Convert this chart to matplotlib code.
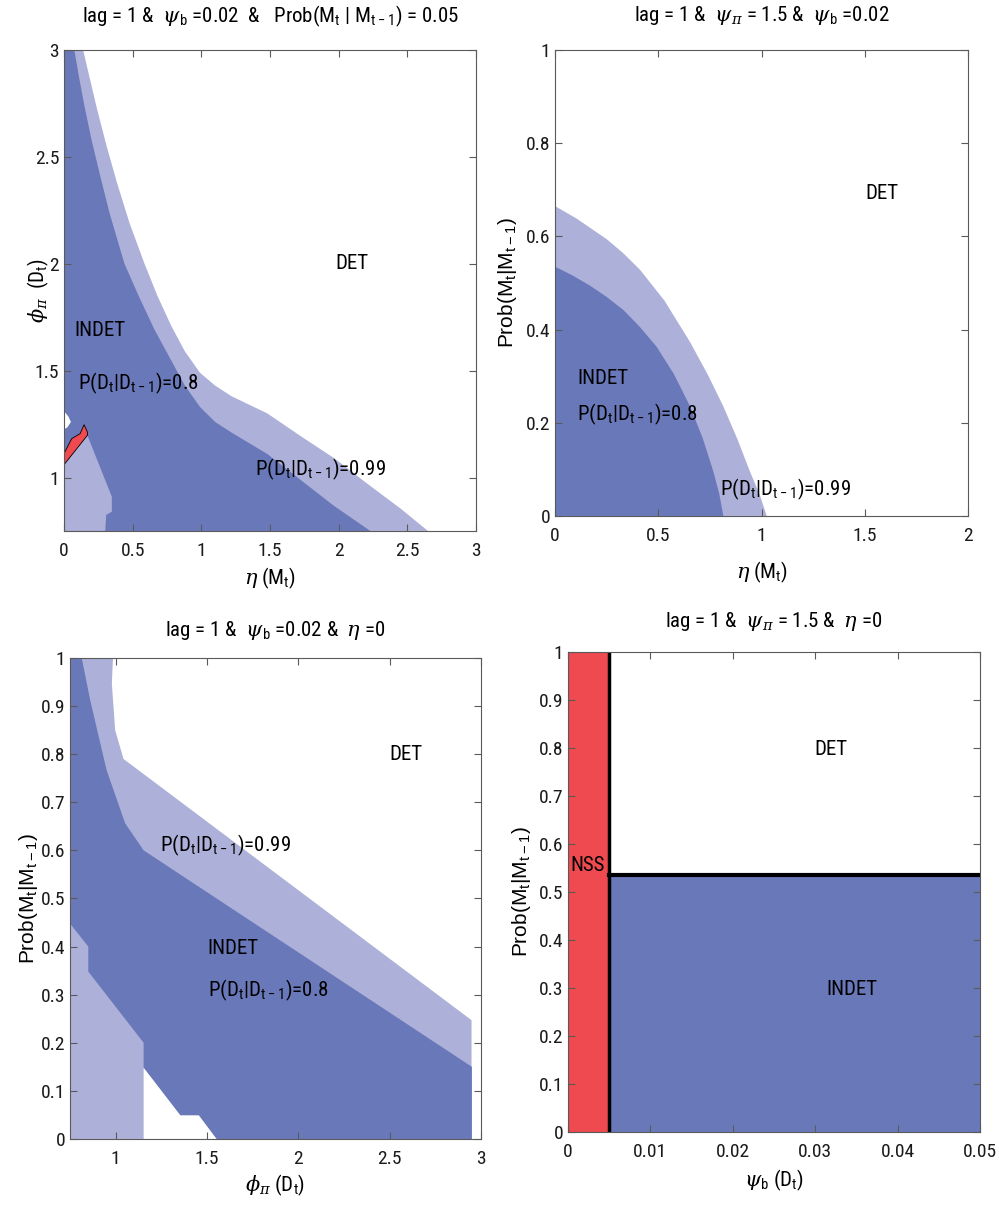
import matplotlib.pyplot as plt
from matplotlib import font_manager as fm
from matplotlib.ticker import FuncFormatter

# pick the narrowest sans that is installed, else plain DejaVu at a smaller size
wanted = ['Liberation Sans Narrow', 'Noto Sans ExtraCondensed', 'Noto Sans Extra Condensed',
          'Noto Sans Condensed', 'Noto Sans Cond', 'DejaVu Sans Condensed',
          'Roboto Condensed', 'Open Sans Condensed']
installed = {f.name for f in fm.fontManager.ttflist}
condensed = {f.name for f in fm.fontManager.ttflist if 'condensed' in str(f.stretch)}
family, scale = 'DejaVu Sans', 0.82
for name in wanted:
    if name in installed:
        family, scale = name, 1.0
        break
else:
    for name in ['Noto Sans', 'DejaVu Sans', 'Open Sans', 'Roboto']:
        if name in condensed:
            family, scale = name, 1.0
            plt.rcParams['font.stretch'] = 'condensed'
            break

plt.rcParams['font.family'] = [family, 'DejaVu Sans']
plt.rcParams['mathtext.default'] = 'regular'
plt.rcParams['mathtext.fontset'] = 'dejavuserif'

FS_TICK = 14 * scale
FS_TXT = 15 * scale
FS_TITLE = 15 * scale

DARK = '#6978b9'
LIGHT = '#adb0d8'
RED = '#ee4a50'
EDGE = '#5a5a5a'

# ---- panel 1: eta vs phi_pi ----
eta_dark_1 = [0.075, 0.11, 0.148, 0.2, 0.26, 0.33, 0.44, 0.55, 0.66, 0.77, 0.88, 0.99,
              1.1, 1.22, 1.35, 1.48, 1.72, 1.96, 2.23]
phi_dark_1 = [3.0, 2.87, 2.74, 2.58, 2.42, 2.24, 2.0, 1.84, 1.69, 1.56, 1.43, 1.33,
              1.26, 1.21, 1.16, 1.11, 0.99, 0.87, 0.75]
eta_light_1 = [0.139, 0.19, 0.238, 0.31, 0.385, 0.477, 0.586, 0.68, 0.78, 0.88,
               0.99, 1.1, 1.22, 1.35, 1.48, 1.72, 1.97, 2.2, 2.45, 2.65]
phi_light_1 = [3.0, 2.86, 2.73, 2.55, 2.38, 2.19, 2.0, 1.85, 1.71, 1.59,
               1.49, 1.43, 1.38, 1.34, 1.30, 1.195, 1.089, 0.975, 0.855, 0.75]
eta_low_1 = [0, 0, 0.17, 0.348, 0.348, 0.307, 0.30]
phi_low_1 = [0.75, 1.06, 1.197, 0.91, 0.84, 0.825, 0.75]
eta_nss_1 = [0, 0, 0.056, 0.117, 0.146, 0.17, 0.17]
phi_nss_1 = [1.06, 1.112, 1.182, 1.205, 1.247, 1.213, 1.197]
eta_hole_1 = [0, 0.032, 0.05, 0.025, 0]
phi_hole_1 = [1.31, 1.285, 1.26, 1.235, 1.225]

# ---- panel 2: eta vs Prob(M|M) ----
eta_dark_2 = [0, 0.085, 0.17, 0.25, 0.331, 0.41, 0.492, 0.575, 0.654, 0.715,
              0.767, 0.795, 0.815]
p_dark_2 = [0.535, 0.516, 0.494, 0.47, 0.442, 0.406, 0.363, 0.305, 0.235, 0.167,
            0.095, 0.048, 0]
eta_light_2 = [0, 0.105, 0.25, 0.33, 0.412, 0.53, 0.654, 0.74, 0.815, 0.885,
               0.944, 0.99, 1.025]
p_light_2 = [0.665, 0.638, 0.594, 0.564, 0.528, 0.462, 0.373, 0.303, 0.235, 0.163,
             0.095, 0.047, 0]

# ---- panel 3: phi_pi vs Prob(M|M) ----
phi_light_3 = [0.985, 0.979, 0.997, 1.043, 2.948]
p_light_3 = [1.0, 0.947, 0.85, 0.79, 0.247]
phi_dark_top_3 = [0.814, 0.86, 0.95, 1.052, 1.153, 2.95]
p_dark_top_3 = [1.0, 0.913, 0.767, 0.656, 0.60, 0.15]
phi_dark_bot_3 = [2.95, 1.552, 1.455, 1.354, 1.153, 1.153, 0.85, 0.85, 0.75]
p_dark_bot_3 = [0.0, 0.0, 0.049, 0.049, 0.148, 0.20, 0.348, 0.40, 0.448]
phi_hole_3 = [1.153, 1.153, 1.354, 1.455, 1.552]
p_hole_3 = [0.0, 0.148, 0.049, 0.049, 0.0]

# ---- panel 4: psi_b vs Prob(M|M) ----
psi_nss = 0.005
psi_max = 0.05
p_det = 0.535

g = FuncFormatter(lambda v, pos: '%g' % round(v, 6))


def style(ax, xlim, ylim, xticks, yticks):
    ax.set_xlim(xlim)
    ax.set_ylim(ylim)
    ax.set_xticks(xticks)
    ax.set_yticks(yticks)
    ax.xaxis.set_major_formatter(g)
    ax.yaxis.set_major_formatter(g)
    ax.tick_params(direction='in', top=True, right=True, labelsize=FS_TICK,
                   length=5, width=0.8, color=EDGE, labelcolor='#1a1a1a')
    ax.tick_params(axis='x', pad=8)
    for s in ax.spines.values():
        s.set_color(EDGE)
        s.set_linewidth(0.8)
        s.set_zorder(5)


def labels(ax, title, ty, xl, xy, yl, yx, prob=False):
    ax.set_title(title, fontsize=FS_TITLE, y=ty, va='center', pad=0)
    ax.set_xlabel(xl, fontsize=FS_TITLE, va='center')
    ax.xaxis.set_label_coords(0.5, xy)
    if prob:
        ax.set_ylabel(yl, fontsize=15, va='center',
                      family=['Liberation Sans', 'DejaVu Sans'])
    else:
        ax.set_ylabel(yl, fontsize=FS_TITLE, va='center')
    ax.yaxis.set_label_coords(yx, 0.5)


psi = r'$\mathit{\psi}$'
eta = r'$\mathit{\eta}$'
phi = r'$\mathit{\phi}$'
pi_ = r'$_\mathit{\pi}$'
prob_label = r'Prob(M$_t$|M$_{t-1}$)'
p08 = r'P(D$_t$|D$_{t-1}$)=0.8'
p099 = r'P(D$_t$|D$_{t-1}$)=0.99'

fig = plt.figure(figsize=(9.99, 12.1), dpi=100)

# panel 1
ax1 = fig.add_axes([0.0641, 0.5612, 0.4124, 0.3975])
ax1.fill([0] + eta_light_1 + [0], [3.0] + phi_light_1 + [0.75], color=LIGHT, lw=0)
ax1.fill([0] + eta_dark_1 + [0], [3.0] + phi_dark_1 + [0.75], color=DARK, lw=0)
ax1.fill(eta_low_1, phi_low_1, color=LIGHT, lw=0)
ax1.fill(eta_hole_1, phi_hole_1, color='white', lw=0)
ax1.fill(eta_nss_1, phi_nss_1, facecolor=RED, edgecolor='black', lw=0.6)
style(ax1, (0, 3), (0.75, 3), [0, 0.5, 1, 1.5, 2, 2.5, 3], [1, 1.5, 2, 2.5, 3])
ax1.text(2.1, 2.0, 'DET', fontsize=FS_TXT, ha='center', va='center')
ax1.text(0.26, 1.69, 'INDET', fontsize=FS_TXT, ha='center', va='center')
ax1.text(0.1, 1.44, p08, fontsize=FS_TXT, ha='left', va='center')
ax1.text(1.39, 1.04, p099, fontsize=FS_TXT, ha='left', va='center')
labels(ax1, 'lag = 1 &  ' + psi + r'$_b$ =0.02  &   Prob(M$_t$ | M$_{t-1}$) = 0.05',
       1.069, eta + r' (M$_t$)', -0.098, phi + pi_ + r'  (D$_t$)', -0.063)

# panel 2
ax2 = fig.add_axes([0.5556, 0.5736, 0.4134, 0.3851])
ax2.fill([0] + eta_light_2, [0] + p_light_2, color=LIGHT, lw=0)
ax2.fill([0] + eta_dark_2, [0] + p_dark_2, color=DARK, lw=0)
style(ax2, (0, 2), (0, 1), [0, 0.5, 1, 1.5, 2], [0, 0.2, 0.4, 0.6, 0.8, 1])
ax2.text(1.585, 0.693, 'DET', fontsize=FS_TXT, ha='center', va='center')
ax2.text(0.107, 0.294, 'INDET', fontsize=FS_TXT, ha='left', va='center')
ax2.text(0.107, 0.219, p08, fontsize=FS_TXT, ha='left', va='center')
ax2.text(0.80, 0.058, p099, fontsize=FS_TXT, ha='left', va='center')
labels(ax2, 'lag = 1 &  ' + psi + pi_ + ' = 1.5 &  ' + psi + r'$_b$ =0.02',
       1.075, eta + r' (M$_t$)', -0.12, prob_label, -0.116, prob=True)

# panel 3
ax3 = fig.add_axes([0.0701, 0.0587, 0.4114, 0.3975])
ax3.fill([0.75, 0.75] + phi_light_3 + [2.948], [0, 1.0] + p_light_3 + [0],
         color=LIGHT, lw=0)
ax3.fill([0.75] + phi_dark_top_3 + phi_dark_bot_3, [1.0] + p_dark_top_3 + p_dark_bot_3,
         color=DARK, lw=0)
ax3.fill(phi_hole_3, p_hole_3, color='white', lw=0)
style(ax3, (0.75, 3), (0, 1), [1, 1.5, 2, 2.5, 3],
      [0, 0.1, 0.2, 0.3, 0.4, 0.5, 0.6, 0.7, 0.8, 0.9, 1])
ax3.text(2.59, 0.80, 'DET', fontsize=FS_TXT, ha='center', va='center')
ax3.text(1.245, 0.61, p099, fontsize=FS_TXT, ha='left', va='center')
ax3.text(1.503, 0.397, 'INDET', fontsize=FS_TXT, ha='left', va='center')
ax3.text(1.503, 0.31, p08, fontsize=FS_TXT, ha='left', va='center')
labels(ax3, 'lag = 1 &  ' + psi + r'$_b$ =0.02 &  ' + eta + ' =0',
       1.058, phi + pi_ + r' (D$_t$)', -0.096, prob_label, -0.102, prob=True)

# panel 4
ax4 = fig.add_axes([0.5686, 0.0645, 0.4124, 0.3967])
ax4.fill_between([0, psi_nss], 0, 1, color=RED, lw=0)
ax4.fill_between([psi_nss, psi_max], 0, p_det, color=DARK, lw=0)
ax4.plot([psi_nss, psi_nss], [0, 1], color='black', lw=2.5, zorder=4)
ax4.plot([psi_nss, psi_max], [p_det, p_det], color='black', lw=3, zorder=4)
style(ax4, (0, 0.05), (0, 1), [0, 0.01, 0.02, 0.03, 0.04, 0.05],
      [0, 0.1, 0.2, 0.3, 0.4, 0.5, 0.6, 0.7, 0.8, 0.9, 1])
ax4.text(0.0024, 0.556, 'NSS', fontsize=FS_TXT, ha='center', va='center')
ax4.text(0.0319, 0.796, 'DET', fontsize=FS_TXT, ha='center', va='center')
ax4.text(0.0345, 0.296, 'INDET', fontsize=FS_TXT, ha='center', va='center')
labels(ax4, 'lag = 1 &  ' + psi + pi_ + ' = 1.5 &  ' + eta + ' =0',
       1.0625, psi + r'$_b$ (D$_t$)', -0.1, prob_label, -0.112, prob=True)

fig.savefig('out.png', dpi=100)
